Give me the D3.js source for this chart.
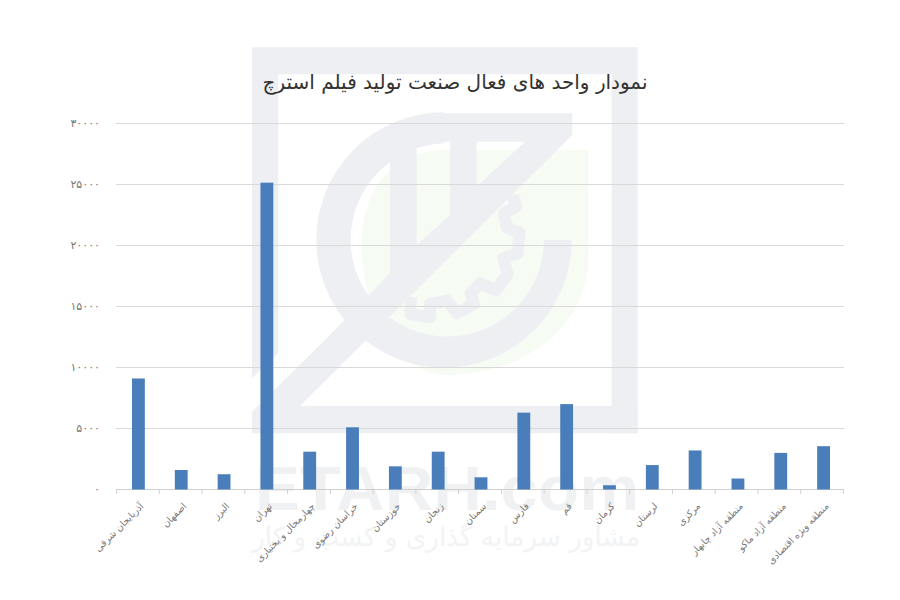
<!DOCTYPE html>
<html lang="fa"><head><meta charset="utf-8">
<script src="https://cdn.jsdelivr.net/npm/d3@7"></script>
<style>html,body{margin:0;background:#fff}svg{display:block}</style></head>
<body><svg id="c" width="900" height="600"></svg>
<script>
const title = "نمودار واحد های فعال صنعت تولید فیلم استرچ";
const categories = ["آذربایجان شرقی","اصفهان","البرز","تهران","چهارمحال و بختیاری","خراسان رضوی","خوزستان","زنجان","سمنان","فارس","قم","کرمان","لرستان","مرکزی","منطقه آزاد چابهار","منطقه آزاد ماکو","منطقه ویژه اقتصادی"];
const values = [9100,1600,1250,25150,3100,5100,1900,3100,1000,6300,7000,350,2000,3200,900,3000,3550];
const tickValues = [0,5000,10000,15000,20000,25000,30000];
const watermarkBrand = "ETARH.com";
const watermarkLine = "مشاور سرمایه گذاری و کسب و کار";

const svg = d3.select("#c");
const font = "'DejaVu Sans', sans-serif";

// Watermark (decoration, behind the chart)
const wm = svg.append("g").attr("transform","translate(240,40) scale(0.3333)");
const GRAY = "#edeff2";
wm.append("path").attr("fill","#f6fbf4")
  .attr("d","M1045,330 L1045,650 C1045,860 850,1005 620,1005 C470,1005 365,800 365,620 C365,440 460,330 620,330 Z");
wm.append("path").attr("fill",GRAY)
  .attr("d","M36,1014 V22 H1193 V1180 H1115 V103 H115 V939 Z");
wm.append("path").attr("fill",GRAY)
  .attr("d","M54,1098 H1193 V1180 H36 V1116 Z");
wm.append("path").attr("fill",GRAY)
  .attr("d","M997,220 V285 L180,1098 L36,1116 L255,900 L450,700 V300 H530 V615 L630,525 V290 H710 V440 L855,305 H612 V220 Z");
wm.append("path").attr("fill",GRAY)
  .attr("d","M995,600 A383,383 0 1 1 612,217 L612,310 A290,290 0 1 0 912,600 Z");
wm.append("path").attr("fill","none").attr("stroke",GRAY).attr("stroke-width",36).attr("stroke-linejoin","round")
  .attr("d","M820,465 L828,500 L792,520 L800,562 L838,578 L833,640 L790,655 L803,702 L768,752 L722,730 L692,760 L702,792 L650,820 L622,782 L570,792 L570,832 L512,822 L512,772");
svg.append("text").text(watermarkBrand).attr("x",255).attr("y",510)
  .attr("font-family","'Liberation Sans',sans-serif").attr("font-weight","bold").attr("font-size",63)
  .attr("fill","#f0f1f3").attr("textLength",384).attr("lengthAdjust","spacingAndGlyphs");
svg.append("text").text(watermarkLine).attr("x",252).attr("y",546)
  .attr("font-family",font).attr("font-size",27).attr("fill","#f2f3f5")
  .attr("textLength",388).attr("lengthAdjust","spacingAndGlyphs");

// Chart
const x = d3.scaleBand().domain(categories).range([117,845]).paddingInner(0.7).paddingOuter(0.35);
const y = d3.scaleLinear().domain([0,30000]).range([489.5,123.5]);
const toFa = n => d3.format("d")(n).replace(/\d/g,d=>"۰۱۲۳۴۵۶۷۸۹"[+d]);

svg.append("g").selectAll("line").data(tickValues).join("line")
  .attr("x1",116).attr("x2",844).attr("y1",d=>y(d)).attr("y2",d=>y(d))
  .attr("stroke",d=>d===0?"#d0d0d0":"#d9d9d9").attr("stroke-width",1);

svg.append("g").selectAll("text").data(tickValues).join("text")
  .attr("x",100).attr("y",d=>y(d)+3.5).attr("text-anchor","end")
  .attr("font-family",font).attr("font-size",11).attr("fill","#777").text(toFa);

svg.append("g").selectAll("line").data(d3.range(categories.length+1)).join("line")
  .attr("x1",i=>116.5+i*727/categories.length).attr("x2",i=>116.5+i*727/categories.length)
  .attr("y1",489).attr("y2",494).attr("stroke","#d0d0d0");

svg.append("g").selectAll("rect").data(values).join("rect")
  .attr("x",(d,i)=>x(categories[i])).attr("width",x.bandwidth())
  .attr("y",d=>y(d)).attr("height",d=>y(0)-y(d)).attr("fill","#4a7ebb");

svg.append("g").selectAll("text").data(categories).join("text")
  .attr("transform",d=>`translate(${x(d)+x.bandwidth()/2+4},505) rotate(-45)`)
  .attr("text-anchor","end").attr("dominant-baseline","middle")
  .attr("font-family",font).attr("font-size",9.5).attr("fill","#777").text(d=>d);

svg.append("text").text(title).attr("x",455).attr("y",89).attr("text-anchor","middle")
  .attr("font-family",font).attr("font-size",20).attr("fill","#333");
</script></body></html>
